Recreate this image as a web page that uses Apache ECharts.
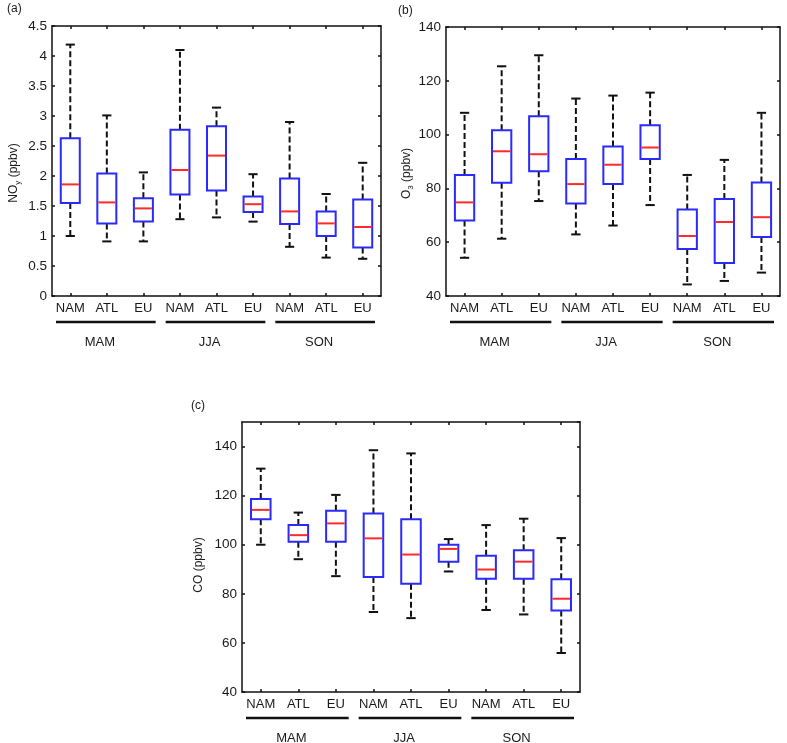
<!DOCTYPE html>
<html>
<head>
<meta charset="utf-8">
<script src="https://cdn.jsdelivr.net/npm/echarts@6/dist/echarts.min.js"></script>
<style>
  html, body { margin: 0; padding: 0; background: #fff; }
  #chart { width: 787px; height: 743px; }
</style>
</head>
<body>
<div id="chart"></div>
<script>
// categories and seasons
const regions = ['NAM', 'ATL', 'EU', 'NAM', 'ATL', 'EU', 'NAM', 'ATL', 'EU'];
const seasons = ['MAM', 'JJA', 'SON'];

// [low whisker, Q1, median, Q3, high whisker]
const noyBoxes = [
    [1.00, 1.55, 1.86, 2.63, 4.19],
    [0.91, 1.21, 1.56, 2.04, 3.01],
    [0.91, 1.24, 1.46, 1.63, 2.06],
    [1.28, 1.69, 2.10, 2.77, 4.10],
    [1.31, 1.76, 2.34, 2.83, 3.14],
    [1.24, 1.40, 1.53, 1.66, 2.03],
    [0.82, 1.20, 1.41, 1.96, 2.90],
    [0.64, 1.00, 1.21, 1.41, 1.70],
    [0.62, 0.81, 1.15, 1.61, 2.22]
];
const o3Boxes = [
    [54.2, 68.1, 74.8, 85.0, 108.1],
    [61.3, 82.1, 93.8, 101.6, 125.4],
    [75.3, 86.4, 92.7, 106.8, 129.5],
    [62.9, 74.4, 81.6, 90.9, 113.4],
    [66.2, 81.6, 88.8, 95.6, 114.5],
    [73.8, 90.9, 95.2, 103.5, 115.6],
    [44.3, 57.5, 62.3, 72.2, 85.0],
    [45.6, 52.3, 67.5, 76.1, 90.6],
    [48.7, 61.9, 69.3, 82.2, 108.1]
];
const coBoxes = [
    [100.0, 110.4, 114.2, 118.6, 131.0],
    [94.1, 101.2, 103.9, 108.0, 113.1],
    [87.2, 101.2, 108.7, 113.8, 120.3],
    [72.6, 86.9, 102.6, 112.7, 138.5],
    [70.1, 84.1, 96.0, 110.4, 137.2],
    [89.1, 93.1, 98.3, 100.0, 102.3],
    [73.4, 86.1, 89.9, 95.5, 108.0],
    [71.6, 86.1, 93.1, 97.8, 110.6],
    [55.9, 73.2, 78.0, 85.9, 102.7]
];

// y axis ranges
const noyAxis = { min: 0, max: 4.5, interval: 0.5 };
const o3Axis = { min: 40, max: 140, interval: 20 };
const coAxis = { min: 40, max: 150, interval: 20 };

const FONT = '"Liberation Sans", Arial, sans-serif';
const TEXT = '#1a1a1a';
const BLUE = '#2a2aff';
const RED = '#ff2a2a';

const panels = [
    { letter: '(a)', letterPos: [7, 10], grid: { left: 52, top: 26, width: 329, height: 270 },
      data: noyBoxes, axis: noyAxis, name: '{t|NO}{s|y}{t| (ppbv)}', nameGap: 30, nameShift: 24 },
    { letter: '(b)', letterPos: [398, 12], grid: { left: 446, top: 27, width: 334, height: 269 },
      data: o3Boxes, axis: o3Axis, name: '{t|O}{s|3}{t| (ppbv)}', nameGap: 31, nameShift: 24 },
    { letter: '(c)', letterPos: [191, 407], grid: { left: 242, top: 422, width: 338, height: 270 },
      data: coBoxes, axis: coAxis, name: '{t|CO (ppbv)}', nameGap: 35, nameShift: 16 }
];

function renderBox(params, api) {
    const idx = api.value(0);
    const low = api.coord([idx, api.value(1)]);
    const q1 = api.coord([idx, api.value(2)]);
    const med = api.coord([idx, api.value(3)]);
    const q3 = api.coord([idx, api.value(4)]);
    const high = api.coord([idx, api.value(5)]);
    const band = api.size([1, 0])[0];
    const bw = band * 0.52;
    const cw = band * 0.25;
    const x = low[0];
    const dash = { stroke: '#111', lineWidth: 2, lineDash: [6, 3] };
    const solid = { stroke: '#111', lineWidth: 2 };
    return {
        type: 'group',
        children: [
            { type: 'line', shape: { x1: x, y1: q3[1], x2: x, y2: high[1] }, style: dash },
            { type: 'line', shape: { x1: x, y1: q1[1], x2: x, y2: low[1] }, style: dash },
            { type: 'line', shape: { x1: x - cw / 2, y1: high[1], x2: x + cw / 2, y2: high[1] }, style: solid },
            { type: 'line', shape: { x1: x - cw / 2, y1: low[1], x2: x + cw / 2, y2: low[1] }, style: solid },
            { type: 'rect', shape: { x: x - bw / 2, y: q3[1], width: bw, height: q1[1] - q3[1] },
              style: { fill: '#fff', stroke: BLUE, lineWidth: 2 } },
            { type: 'line', shape: { x1: x - bw / 2 + 1, y1: med[1], x2: x + bw / 2 - 1, y2: med[1] },
              style: { stroke: RED, lineWidth: 2 } }
        ]
    };
}

const grids = [], xAxes = [], yAxes = [], series = [], graphics = [];

panels.forEach((p, i) => {
    grids.push(p.grid);
    const xBase = {
        type: 'category', data: regions, gridIndex: i, boundaryGap: true,
        axisLine: { show: true, onZero: false, lineStyle: { color: '#111', width: 1.5 } },
        axisTick: { show: true, inside: true, length: 3, alignWithLabel: true, lineStyle: { color: '#111', width: 1.5 } },
        splitLine: { show: false }
    };
    xAxes.push(Object.assign({}, xBase, {
        position: 'bottom',
        axisLabel: { color: TEXT, fontFamily: FONT, fontSize: 13, margin: 6, interval: 0 }
    }));
    xAxes.push(Object.assign({}, xBase, { position: 'top', axisLabel: { show: false } }));

    const yBase = {
        type: 'value', gridIndex: i,
        min: p.axis.min, max: p.axis.max, interval: p.axis.interval,
        axisLine: { show: true, onZero: false, lineStyle: { color: '#111', width: 1.5 } },
        axisTick: { show: true, inside: true, length: 3, lineStyle: { color: '#111', width: 1.5 } },
        splitLine: { show: false }
    };
    yAxes.push(Object.assign({}, yBase, {
        position: 'left',
        name: p.name, nameLocation: 'middle', nameGap: p.nameGap, nameRotate: 90,
        nameTextStyle: {
            color: TEXT, fontFamily: FONT,
            padding: [0, p.nameShift, 0, 0],
            rich: {
                t: { fontSize: 12, fontFamily: FONT, color: TEXT, lineHeight: 16 },
                s: { fontSize: 8, fontFamily: FONT, color: TEXT, lineHeight: 8, verticalAlign: 'bottom' }
            }
        },
        axisLabel: { color: TEXT, fontFamily: FONT, fontSize: 13.5, margin: 5, showMaxLabel: p.axis === coAxis ? false : true }
    }));
    yAxes.push(Object.assign({}, yBase, { position: 'right', axisLabel: { show: false } }));

    series.push({
        type: 'custom',
        xAxisIndex: i * 2, yAxisIndex: i * 2,
        renderItem: renderBox,
        encode: { x: 0, y: [1, 2, 3, 4, 5] },
        data: p.data.map((b, k) => [k].concat(b)),
        z: 3
    });

    // panel letter
    graphics.push({
        type: 'text', left: p.letterPos[0], top: p.letterPos[1] - 7,
        style: { text: p.letter, font: '12px ' + FONT, fill: TEXT }
    });

    // season group underlines and labels
    const g = p.grid;
    const third = g.width / 3;
    const lineY = g.top + g.height + 26;
    seasons.forEach((s, k) => {
        const x1 = g.left + k * third + 4;
        const x2 = g.left + (k + 1) * third - 6;
        graphics.push({
            type: 'line',
            shape: { x1: x1, y1: lineY, x2: x2, y2: lineY },
            style: { stroke: '#111', lineWidth: 2.5 }
        });
        graphics.push({
            type: 'text', x: (x1 + x2) / 2 - 6, y: lineY + 20,
            style: { text: s, font: '13px ' + FONT, fill: TEXT, align: 'center', verticalAlign: 'middle' }
        });
    });
});

const chart = echarts.init(document.getElementById('chart'));
chart.setOption({
    backgroundColor: '#fff',
    animation: false,
    grid: grids,
    xAxis: xAxes,
    yAxis: yAxes,
    series: series,
    graphic: graphics
});
</script>
</body>
</html>
